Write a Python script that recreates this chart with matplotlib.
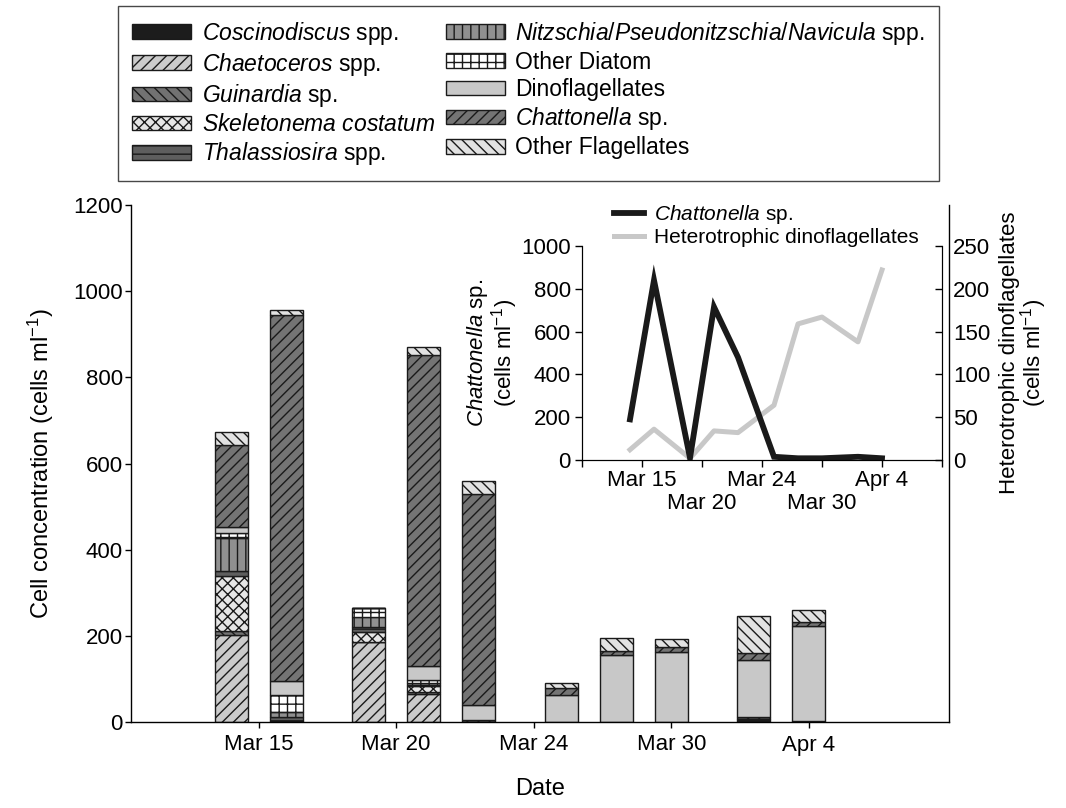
import matplotlib
matplotlib.use("Agg")
import matplotlib.pyplot as plt
from matplotlib.patches import Patch
from matplotlib.lines import Line2D
import numpy as np

plt.rcParams['font.family'] = ['Liberation Sans', 'DejaVu Sans']
plt.rcParams['mathtext.fontset'] = 'custom'
plt.rcParams['mathtext.rm'] = 'Liberation Sans'
plt.rcParams['mathtext.it'] = 'Liberation Sans:italic'
plt.rcParams['hatch.linewidth'] = 1.0

# ---------------- data ----------------
sample_pos = [-1, 1, 4, 6, 8, 11, 13, 15, 18, 20]   # sampling positions on the shared date axis
date_ticks = [0, 5, 10, 15, 20]
date_labels = ['Mar 15', 'Mar 20', 'Mar 24', 'Mar 30', 'Apr 4']

coscinodiscus = [0, 0, 0, 0, 0, 0, 0, 0, 8, 0]
chaetoceros   = [202, 3, 186, 65, 5, 0, 0, 0, 3, 3]
guinardia     = [10, 0, 0, 5, 0, 0, 0, 0, 0, 0]
skeletonema   = [127, 0, 22, 14, 0, 0, 0, 0, 0, 0]
thalassiosira = [12, 8, 12, 3, 0, 0, 0, 0, 0, 0]
nitzschia     = [75, 12, 24, 3, 0, 0, 0, 0, 0, 0]
other_diatom  = [12, 40, 20, 8, 0, 0, 0, 0, 0, 0]
dinoflag      = [14, 32, 0, 32, 35, 62, 155, 163, 133, 220]
chattonella   = [191, 850, 0, 722, 489, 16, 10, 10, 16, 8]
other_flag    = [30, 12, 0, 18, 30, 12, 31, 20, 87, 29]

inset_chattonella = [190, 840, 10, 715, 480, 15, 8, 8, 15, 8]
inset_hetero_dino = [12, 36, 2, 34, 32, 64, 159, 167, 138, 222]

series = [
    ('$\\mathit{Coscinodiscus}$ spp.', coscinodiscus, '#1c1c1c', ''),
    ('$\\mathit{Chaetoceros}$ spp.', chaetoceros, '#cbcbcb', '///'),
    ('$\\mathit{Guinardia}$ sp.', guinardia, '#727272', '\\\\\\'),
    ('$\\mathit{Skeletonema\\ costatum}$', skeletonema, '#e6e6e6', 'xxx'),
    ('$\\mathit{Thalassiosira}$ spp.', thalassiosira, '#5e5e5e', '--'),
    ('$\\mathit{Nitzschia/Pseudonitzschia/Navicula}$ spp.', nitzschia, '#909090', '||'),
    ('Other Diatom', other_diatom, '#ffffff', '++'),
    ('Dinoflagellates', dinoflag, '#c8c8c8', ''),
    ('$\\mathit{Chattonella}$ sp.', chattonella, '#747474', '///'),
    ('Other Flagellates', other_flag, '#e2e2e2', '\\\\\\'),
]

W, H = 1066, 808
fig = plt.figure(figsize=(W / 100, H / 100), dpi=100)

def rect(x0, y0, x1, y1):
    return [x0 / W, 1 - y1 / H, (x1 - x0) / W, (y1 - y0) / H]

# ---------------- main axes ----------------
ax = fig.add_axes(rect(131, 205, 949, 722))
bottom = np.zeros(len(sample_pos))
handles = []
for label, vals, color, hatch in series:
    v = np.array(vals, dtype=float)
    ax.bar(sample_pos, v, width=1.2, bottom=bottom, color=color, hatch=hatch,
           edgecolor='#1a1a1a', linewidth=1.0)
    bottom += v
    handles.append(Patch(facecolor=color, hatch=hatch, edgecolor='#1a1a1a',
                         linewidth=1.0, label=label))

ax.set_xlim(-4.64, 25.1)
ax.set_ylim(0, 1200)
ax.set_yticks(np.arange(0, 1201, 200))
ax.set_xticks(date_ticks, date_labels)
ax.tick_params(axis='both', labelsize=16, direction='out', length=4, width=1, pad=2)
ax.tick_params(axis='x', pad=5)
ax.spines['top'].set_visible(False)
for s in ax.spines.values():
    s.set_linewidth(1.0)
ax.set_ylabel('Cell concentration (cells ml$^{-1}$)', fontsize=17, labelpad=12)
ax.set_xlabel('Date', fontsize=17, labelpad=16)

# ---------------- legend box ----------------
leg = fig.legend(handles=handles, ncol=2, loc='upper left',
                 bbox_to_anchor=(118 / W, 1 - 6 / H), fontsize=16.5,
                 frameon=True, fancybox=False, edgecolor='#1a1a1a',
                 handlelength=2.6, handleheight=0.62, handletextpad=0.45,
                 labelspacing=0.18, columnspacing=0.45, borderpad=0.6,
                 borderaxespad=0)
leg.get_frame().set_linewidth(1.0)

# ---------------- inset ----------------
ins = fig.add_axes(rect(582, 246, 942, 460))
ins.plot(sample_pos, inset_chattonella, color='#1a1a1a', lw=4.2, solid_joinstyle='miter')
ins.set_xlim(-5, 25)
ins.set_ylim(0, 1000)
ins.set_yticks(np.arange(0, 1001, 200))
major = np.arange(-5, 26, 5)
ins.set_xticks(major, [date_labels[date_ticks.index(t)] if (t in date_ticks and date_ticks.index(t) % 2 == 0) else ''
                       for t in major])
ins.xaxis.remove_overlapping_locs = False
ins.set_xticks(date_ticks[1::2], date_labels[1::2], minor=True)
ins.tick_params(axis='both', labelsize=16, direction='out', length=5, width=1, pad=3)
ins.tick_params(axis='x', which='major', pad=2)
ins.tick_params(axis='x', which='minor', length=0, pad=24, labelsize=16)
ins.spines['top'].set_visible(False)
ins.set_ylabel('$\\mathit{Chattonella}$ sp.\n(cells ml$^{-1}$)', fontsize=16,
               labelpad=1, linespacing=0.95)

ins2 = ins.twinx()
ins2.plot(sample_pos, inset_hetero_dino, color='#c8c8c8', lw=3.6)
ins2.set_ylim(0, 250)
ins2.set_yticks(np.arange(0, 251, 50))
ins2.tick_params(axis='y', labelsize=16, direction='in', length=5, width=1, pad=8)
ins2.spines['top'].set_visible(False)
ins2.set_ylabel('Heterotrophic dinoflagellates\n(cells ml$^{-1}$)', fontsize=16,
                labelpad=6, linespacing=0.95)
ins.set_zorder(ins2.get_zorder() + 1)
ins.patch.set_visible(False)

ins.legend(handles=[Line2D([], [], color='#1a1a1a', lw=4.2, label='$\\mathit{Chattonella}$ sp.'),
                    Line2D([], [], color='#c8c8c8', lw=3.6, label='Heterotrophic dinoflagellates')],
           loc='upper left', bbox_to_anchor=(0.065, 1.24), frameon=False, fontsize=15,
           handlelength=1.45, handletextpad=0.5, labelspacing=0.12, borderaxespad=0)

fig.savefig('out.png', dpi=100)
